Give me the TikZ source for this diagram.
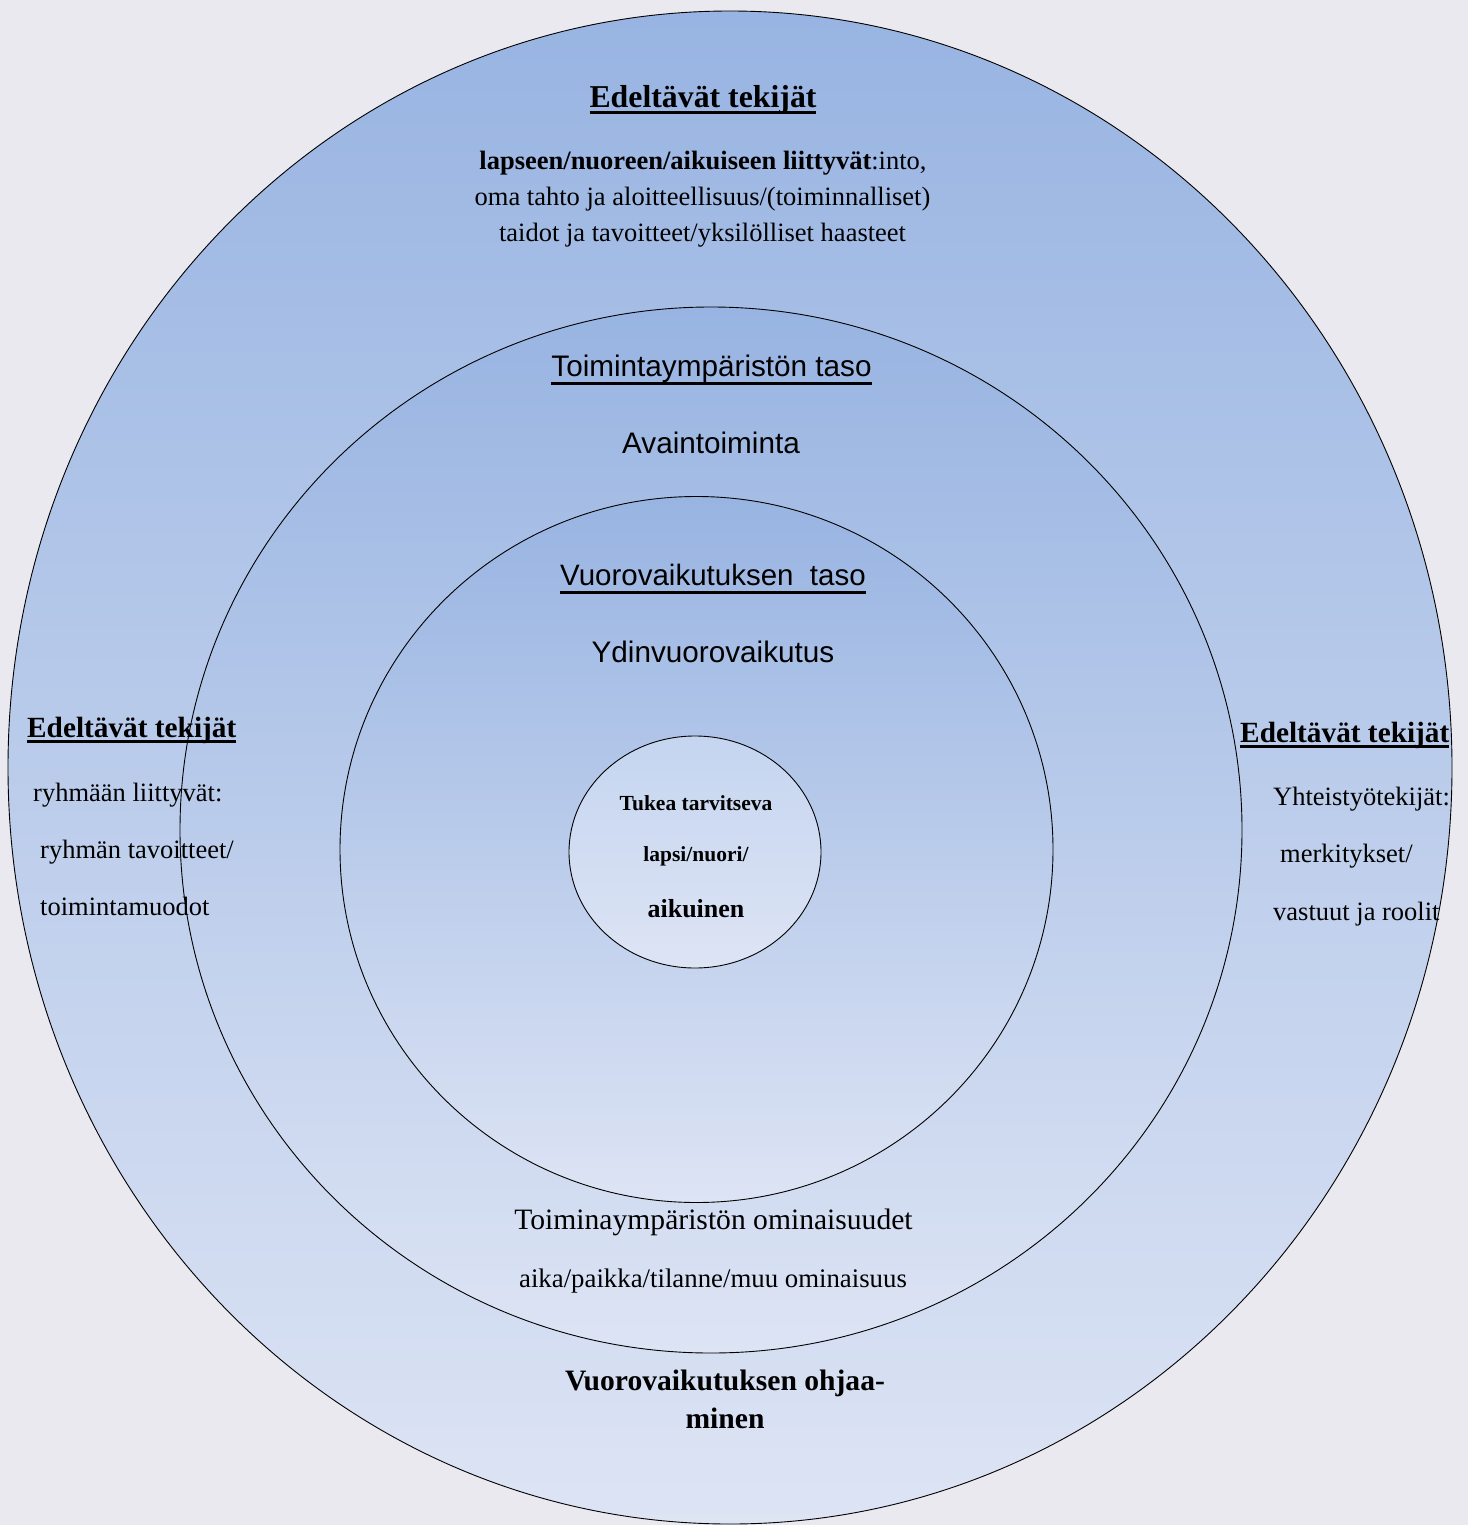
\documentclass[tikz,border=0pt]{standalone}
\usepackage{fontspec}
\setmainfont{Liberation Serif}
\setsansfont{Liberation Sans}
\usetikzlibrary{shapes.geometric}
\definecolor{bgc}{RGB}{234,233,240}
\definecolor{topc}{RGB}{152,180,226}
\definecolor{botc}{RGB}{221,228,244}
\definecolor{intop}{RGB}{197,213,240}
\newcommand\ulbox[3]{\setbox0\hbox{#3}\rlap{\rule[-#1]{\wd0}{#2}}\box0}
\begin{document}
\begin{tikzpicture}[x=1pt,y=1pt,
  ring/.style={ellipse, draw=black, line width=0.9pt, inner sep=0pt, top color=topc, bottom color=botc},
  hd/.style={inner sep=0pt, anchor=base, font=\bfseries\fontsize{29.3}{36}\selectfont},
  bodyt/.style={inner sep=0pt, anchor=base, font=\fontsize{26.5}{30}\selectfont},
  side/.style={inner sep=0pt, anchor=base west, font=\fontsize{26.5}{30}\selectfont},
  sf/.style={inner sep=0pt, anchor=base, font=\sffamily\fontsize{29.7}{34}\selectfont},
  inb/.style={inner sep=0pt, anchor=base, font=\bfseries\fontsize{21.5}{26}\selectfont},
  bot/.style={inner sep=0pt, anchor=base},
]
\fill[bgc] (0,0) rectangle (1468,-1525);
\useasboundingbox (0,0) rectangle (1468,-1525);

\node[ring, minimum width=1444pt, minimum height=1513pt] (outer) at (730,-767.5) {};
\node[ring, minimum width=1062pt, minimum height=1046pt] (middle) at (711,-830) {};
\node[ring, minimum width=713pt, minimum height=706pt] (third) at (696.5,-849.5) {};
\node[ring, top color=intop, minimum width=252pt, minimum height=232pt] (inner) at (695,-852) {};

% top
\node[hd, font=\bfseries\fontsize{31.8}{36}\selectfont] (toph) at (703,-108) {\ulbox{6.5pt}{3pt}{Edeltävät tekijät}};
\node[bodyt] (t1) at (703,-170) {\textbf{lapseen/nuoreen/aikuiseen liittyvät}:into,};
\node[bodyt] (t2) at (702.5,-205.5) {oma tahto ja aloitteellisuus/(toiminnalliset)};
\node[bodyt] (t3) at (702.5,-241) {taidot ja tavoitteet/yksilölliset haasteet};

% environment level
\node[sf] (envh) at (711.5,-376) {\ulbox{8.5pt}{2.5pt}{Toimintaympäristön taso}};
\node[sf] (envk) at (711,-453) {Avaintoiminta};

% interaction level
\node[sf, font=\sffamily\fontsize{29.5}{34}\selectfont] (inth) at (713,-585) {\ulbox{8.5pt}{2.5pt}{Vuorovaikutuksen\ \ taso}};
\node[sf] (intk) at (713,-662) {Ydinvuorovaikutus};

% left
\node[hd, anchor=base west] (lh) at (27,-737) {\ulbox{5.5pt}{3pt}{Edeltävät tekijät}};
\node[side] (l1) at (33,-801) {ryhmään liittyvät:};
\node[side] (l2) at (40,-858) {ryhmän tavoitteet/};
\node[side] (l3) at (40,-915) {toimintamuodot};

% right
\node[hd, anchor=base west] (rh) at (1240,-742) {\ulbox{5.5pt}{3pt}{Edeltävät tekijät}};
\node[side] (r1) at (1273,-805) {Yhteistyötekijät:};
\node[side] (r2) at (1280,-862) {merkitykset/};
\node[side] (r3) at (1273,-920) {vastuut ja roolit};

% inner
\node[inb] (c1) at (696,-810) {Tukea tarvitseva};
\node[inb] (c2) at (696,-861) {lapsi/nuori/};
\node[inb, font=\bfseries\fontsize{26}{30}\selectfont] (c3) at (696,-917) {aikuinen};

% bottom
\node[bot, font=\fontsize{29.6}{34}\selectfont] (b1) at (713.5,-1229) {Toiminaympäristön ominaisuudet};
\node[bot, font=\fontsize{26.8}{32}\selectfont] (b2) at (713,-1287) {aika/paikka/tilanne/muu ominaisuus};
\node[bot, font=\bfseries\fontsize{29.6}{34}\selectfont] (b3) at (725,-1390) {Vuorovaikutuksen ohjaa-};
\node[bot, font=\bfseries\fontsize{29.6}{34}\selectfont] (b4) at (725,-1428) {minen};
\end{tikzpicture}
\end{document}
